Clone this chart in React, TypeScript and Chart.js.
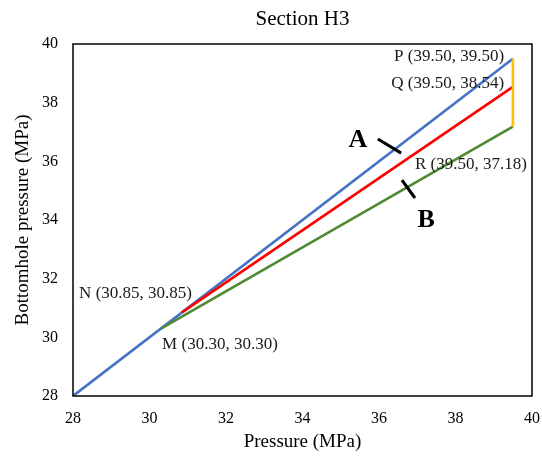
import { useEffect, useRef } from "react";
import { Chart, registerables } from "chart.js";

Chart.register(...registerables);

// Bottomhole pressure paths for Section H3 (MPa)
const blueLineX = [28.0, 39.5];
const blueLineY = [28.0, 39.5];
const redLineX = [30.85, 39.5];
const redLineY = [30.85, 38.54];
const greenLineX = [30.3, 39.5];
const greenLineY = [30.3, 37.18];
const orangeLineX = [39.5, 39.5];
const orangeLineY = [37.18, 39.5];

// Named points: name, pressure, bottomhole pressure
const pointNames = ["P", "Q", "R", "N", "M"];
const pointX = [39.5, 39.5, 39.5, 30.85, 30.3];
const pointY = [39.5, 38.54, 37.18, 30.85, 30.3];

const axisTicks = [28, 30, 32, 34, 36, 38, 40];

const SERIF = '"Liberation Serif", "Times New Roman", serif';

const toPoints = (xs: number[], ys: number[]) => xs.map((x, i) => ({ x, y: ys[i] }));

// label placement in data units: [anchor x, anchor y, text align]
const labelPlacement: Record<string, [number, number, CanvasTextAlign]> = {
  P: [39.27, 39.57, "right"],
  Q: [39.27, 38.66, "right"],
  R: [36.94, 35.88, "left"],
  N: [28.16, 31.51, "left"],
  M: [30.33, 29.77, "left"],
};

const annotationPlugin = {
  id: "sectionAnnotations",
  afterDatasetsDraw(chart: any) {
    const { ctx, chartArea, scales } = chart;
    const xs = scales.x;
    const ys = scales.y;
    const px = (v: number) => xs.getPixelForValue(v);
    const py = (v: number) => ys.getPixelForValue(v);
    ctx.save();

    // frame around the plot
    ctx.strokeStyle = "#000";
    ctx.lineWidth = 1.5;
    ctx.strokeRect(chartArea.left, chartArea.top, chartArea.right - chartArea.left, chartArea.bottom - chartArea.top);

    // point labels
    ctx.fillStyle = "#1a1a1a";
    ctx.font = `17px ${SERIF}`;
    ctx.textBaseline = "middle";
    pointNames.forEach((name, i) => {
      const [lx, ly, align] = labelPlacement[name];
      ctx.textAlign = align;
      const text = `${name} (${pointX[i].toFixed(2)}, ${pointY[i].toFixed(2)})`;
      ctx.fillText(text, px(lx), py(ly));
    });

    // path markers A and B
    ctx.strokeStyle = "#000";
    ctx.lineWidth = 3;
    ctx.beginPath();
    ctx.moveTo(px(35.97), py(36.76));
    ctx.lineTo(px(36.58), py(36.28));
    ctx.moveTo(px(36.6), py(35.36));
    ctx.lineTo(px(36.94), py(34.75));
    ctx.stroke();

    ctx.fillStyle = "#000";
    ctx.font = `bold 26px ${SERIF}`;
    ctx.textAlign = "center";
    ctx.fillText("A", px(35.45), py(36.71));
    ctx.fillText("B", px(37.23), py(34.0));
    ctx.restore();
  },
};

export default function App() {
  const canvasRef = useRef<HTMLCanvasElement | null>(null);

  useEffect(() => {
    if (!canvasRef.current) return;
    const lineDataset = (xs: number[], ys: number[], color: string, order: number) => ({
      data: toPoints(xs, ys),
      showLine: true,
      borderColor: color,
      backgroundColor: color,
      borderWidth: 2.6,
      pointRadius: 0,
      pointHoverRadius: 0,
      order,
    });

    const chart = new Chart(canvasRef.current, {
      type: "scatter",
      data: {
        datasets: [
          lineDataset(orangeLineX, orangeLineY, "#FFC000", 1),
          lineDataset(redLineX, redLineY, "#FF0000", 2),
          lineDataset(greenLineX, greenLineY, "#4E8A33", 3),
          lineDataset(blueLineX, blueLineY, "#4472C4", 4),
        ],
      },
      options: {
        responsive: false,
        animation: false,
        layout: { padding: { left: 0, right: 10, top: 0, bottom: 0 } },
        plugins: {
          legend: { display: false },
          tooltip: { enabled: false },
          title: {
            display: true,
            text: "Section H3",
            fullSize: false,
            color: "#000",
            font: { family: SERIF, size: 21, weight: "normal" },
            padding: { top: 6.4, bottom: 12.4 },
          },
        },
        scales: {
          x: {
            type: "linear",
            min: 28,
            max: 40,
            afterBuildTicks: (scale: any) => {
              scale.ticks = axisTicks.map((v) => ({ value: v }));
            },
            afterFit: (scale: any) => {
              scale.height = 60;
              scale.paddingLeft = 0;
              scale.paddingRight = 0;
            },
            grid: { display: false, drawTicks: false },
            border: { display: false },
            ticks: {
              color: "#000",
              padding: 13,
              maxRotation: 0,
              font: { family: SERIF, size: 16 },
            },
            title: {
              display: true,
              text: "Pressure (MPa)",
              color: "#000",
              font: { family: SERIF, size: 19 },
              padding: { top: 0, bottom: 2.6 },
            },
          },
          y: {
            type: "linear",
            min: 28,
            max: 40,
            afterBuildTicks: (scale: any) => {
              scale.ticks = axisTicks.map((v) => ({ value: v }));
            },
            afterFit: (scale: any) => {
              scale.width = 73;
              scale.paddingTop = 0;
              scale.paddingBottom = 0;
            },
            grid: { display: false, drawTicks: false },
            border: { display: false },
            ticks: {
              color: "#000",
              padding: 15,
              font: { family: SERIF, size: 16 },
            },
            title: {
              display: true,
              text: "Bottomhole pressure (MPa)",
              color: "#000",
              font: { family: SERIF, size: 19 },
              padding: { top: 12, bottom: 0 },
            },
          },
        },
      },
      plugins: [annotationPlugin],
    });
    return () => chart.destroy();
  }, []);

  return (
    <div style={{ position: "fixed", left: 0, top: 0, width: 542, height: 456, background: "#fff" }}>
      <canvas ref={canvasRef} width={542} height={456} />
    </div>
  );
}
